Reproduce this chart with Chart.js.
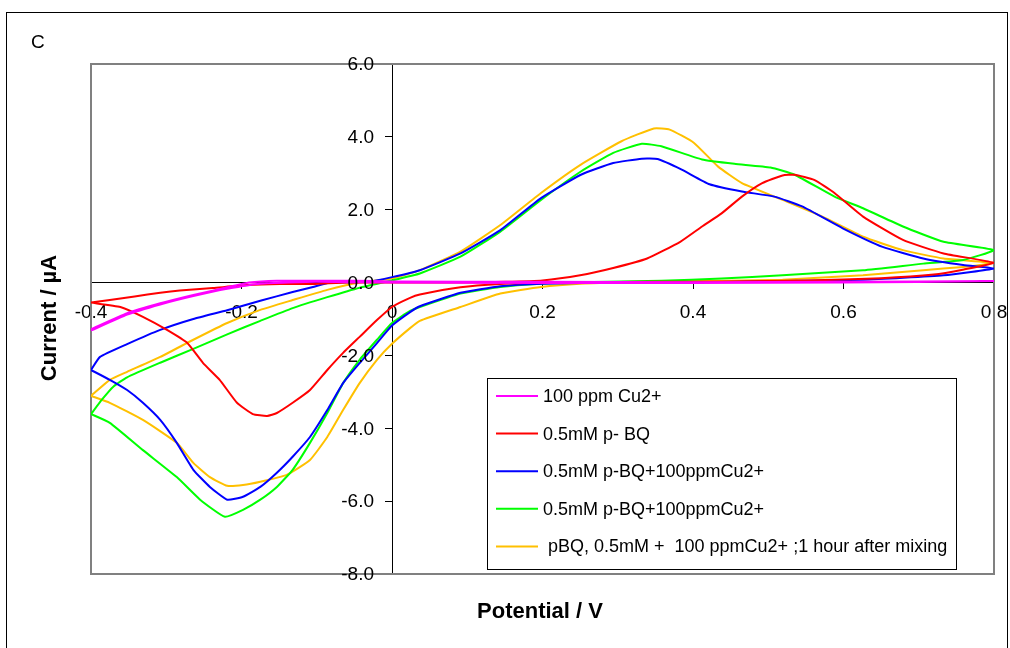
<!DOCTYPE html>
<html lang="en">
<head>
  <meta charset="UTF-8" />
  <title>Cyclic voltammograms C</title>
  <script src="https://cdn.jsdelivr.net/npm/chart.js"></script>
  <style>
    body { margin: 0; background: #fff; }
  </style>
</head>
<body>
  <canvas id="cvChart" width="1010" height="648"></canvas>

  <script>
    // tick values
    const xTicks = [-0.4, -0.2, 0, 0.2, 0.4, 0.6, 0.8];
    const yTicks = [-8, -6, -4, -2, 0, 2, 4, 6];

    const seriesLabels = [
      '100 ppm Cu2+',
      '0.5mM p- BQ',
      '0.5mM p-BQ+100ppmCu2+',
      '0.5mM p-BQ+100ppmCu2+',
      ' pBQ, 0.5mM +  100 ppmCu2+ ;1 hour after mixing'
    ];
    const seriesColors = ['#ff00ff', '#ff0000', '#0000ff', '#00ff00', '#ffc000'];

    // potential (V) / current (uA), closed loops starting at -0.4 V
    const cuPotential = [-0.4, -0.352, -0.308, -0.264, -0.219, -0.19, -0.153, -0.1, -0.05, 0, 0.2, 0.4, 0.6, 0.8,
      0.6, 0.4, 0.2, 0, -0.1, -0.175, -0.219, -0.264, -0.308, -0.352, -0.4];
    const cuCurrent = [-1.28, -0.84, -0.57, -0.34, -0.13, 0.0, 0.05, 0.05, 0.05, 0.03, 0.02, 0.01, 0.02, 0.04,
      0.0, -0.01, -0.01, 0.0, 0.02, -0.03, -0.17, -0.37, -0.6, -0.88, -1.32];

    const bqPotential = [-0.4, -0.375, -0.342, -0.308, -0.282, -0.238, -0.193, -0.149, -0.105, -0.06, 0, 0.1, 0.15, 0.2,
      0.25, 0.294, 0.339, 0.383, 0.412, 0.438, 0.465, 0.492, 0.519, 0.535, 0.561, 0.588, 0.626, 0.679, 0.733, 0.8,
      0.76, 0.72, 0.65, 0.55, 0.45, 0.35, 0.25, 0.2, 0.144, 0.091, 0.037, 0.024, 0, -0.02, -0.043, -0.065, -0.086,
      -0.109, -0.132, -0.153, -0.166, -0.185, -0.206, -0.229, -0.251, -0.272, -0.299, -0.331, -0.361, -0.4];
    const bqCurrent = [-0.55, -0.48, -0.38, -0.28, -0.22, -0.15, -0.07, -0.04, -0.04, 0.0, 0.0, 0.0, 0.02, 0.06,
      0.2, 0.4, 0.66, 1.12, 1.54, 1.9, 2.36, 2.73, 2.94, 2.96, 2.82, 2.46, 1.81, 1.17, 0.8, 0.54,
      0.36, 0.22, 0.12, 0.06, 0.03, 0.02, 0.01, 0.0, -0.04, -0.13, -0.33, -0.42, -0.67, -1.03, -1.49, -1.93, -2.4,
      -2.95, -3.3, -3.58, -3.66, -3.61, -3.3, -2.67, -2.21, -1.66, -1.3, -0.94, -0.67, -0.55];

    const mixAPotential = [-0.4, -0.388, -0.352, -0.308, -0.264, -0.219, -0.175, -0.132, -0.105, -0.082, -0.033, 0,
      0.037, 0.091, 0.144, 0.198, 0.251, 0.294, 0.332, 0.353, 0.385, 0.422, 0.465, 0.508, 0.545, 0.599, 0.652, 0.706, 0.759, 0.8,
      0.733, 0.626, 0.519, 0.41, 0.305, 0.2, 0.144, 0.091, 0.037, 0.024, 0, -0.02, -0.043, -0.065, -0.086, -0.109,
      -0.132, -0.153, -0.175, -0.198, -0.219, -0.242, -0.264, -0.286, -0.308, -0.331, -0.352, -0.375, -0.4];
    const mixACurrent = [-2.4, -2.04, -1.69, -1.3, -1.0, -0.76, -0.5, -0.26, -0.12, 0.0, 0.02, 0.15,
      0.34, 0.8, 1.44, 2.32, 2.96, 3.28, 3.4, 3.39, 3.1, 2.7, 2.5, 2.36, 2.09, 1.49, 0.98, 0.66, 0.48, 0.39,
      0.2, 0.08, 0.04, 0.01, 0.0, -0.03, -0.1, -0.28, -0.65, -0.81, -1.18, -1.66, -2.21, -2.76, -3.5, -4.24,
      -4.78, -5.22, -5.61, -5.88, -5.96, -5.61, -5.14, -4.4, -3.77, -3.3, -2.95, -2.67, -2.4];

    const mixBPotential = [-0.4, -0.385, -0.37, -0.352, -0.308, -0.264, -0.219, -0.175, -0.132, -0.086, -0.043, 0,
      0.037, 0.091, 0.144, 0.198, 0.251, 0.294, 0.332, 0.358, 0.412, 0.455, 0.503, 0.535, 0.588, 0.626, 0.679, 0.733, 0.8,
      0.759, 0.706, 0.626, 0.519, 0.438, 0.358, 0.25, 0.198, 0.144, 0.091, 0.037, 0.024, 0, -0.02, -0.043, -0.065,
      -0.086, -0.109, -0.132, -0.153, -0.175, -0.198, -0.222, -0.255, -0.286, -0.331, -0.375, -0.4];
    const mixBCurrent = [-3.61, -3.2, -2.85, -2.6, -2.2, -1.82, -1.42, -1.05, -0.7, -0.4, -0.14, 0.06,
      0.25, 0.71, 1.4, 2.27, 3.05, 3.56, 3.81, 3.74, 3.38, 3.26, 3.16, 2.96, 2.36, 2.04, 1.54, 1.12, 0.89,
      0.62, 0.52, 0.34, 0.2, 0.11, 0.05, 0.01, -0.03, -0.12, -0.3, -0.67, -0.78, -1.11, -1.57, -2.12, -2.76,
      -3.58, -4.4, -5.14, -5.61, -5.96, -6.24, -6.43, -5.96, -5.34, -4.6, -3.85, -3.61];

    const agedPotential = [-0.4, -0.375, -0.352, -0.308, -0.264, -0.219, -0.175, -0.132, -0.086, -0.043, 0,
      0.037, 0.091, 0.144, 0.198, 0.251, 0.305, 0.348, 0.369, 0.401, 0.433, 0.465, 0.519, 0.572, 0.626, 0.679, 0.733, 0.8,
      0.759, 0.706, 0.626, 0.519, 0.412, 0.305, 0.25, 0.198, 0.144, 0.091, 0.037, 0.024, 0, -0.02, -0.043, -0.065,
      -0.086, -0.109, -0.14, -0.175, -0.198, -0.219, -0.242, -0.264, -0.286, -0.331, -0.375, -0.4];
    const agedCurrent = [-3.11, -2.67, -2.45, -2.04, -1.57, -1.11, -0.75, -0.48, -0.2, 0.0, 0.11,
      0.34, 0.85, 1.58, 2.46, 3.24, 3.88, 4.23, 4.2, 3.84, 3.19, 2.73, 2.27, 1.81, 1.26, 0.89, 0.66, 0.54,
      0.43, 0.34, 0.2, 0.08, 0.04, 0.0, -0.03, -0.12, -0.3, -0.67, -1.05, -1.25, -1.68, -2.12, -2.76, -3.5,
      -4.24, -4.87, -5.28, -5.47, -5.56, -5.58, -5.34, -4.95, -4.4, -3.77, -3.3, -3.11];

    const potentials = [cuPotential, bqPotential, mixAPotential, mixBPotential, agedPotential];
    const currents = [cuCurrent, bqCurrent, mixACurrent, mixBCurrent, agedCurrent];

    const FONT = "'Liberation Sans', Arial, sans-serif";

    const datasets = seriesLabels.map((label, i) => ({
      label,
      data: potentials[i].map((x, j) => ({ x, y: currents[i][j] })),
      borderColor: seriesColors[i],
      backgroundColor: seriesColors[i],
      borderWidth: 2,
      pointRadius: 0,
      showLine: true,
      tension: 0.15,
      fill: false
    }));

    // frame, y labels, titles and legend box
    const decorations = {
      id: 'decorations',
      beforeDatasetsDraw(chart) {
        const { ctx, chartArea: a } = chart;
        ctx.save();
        ctx.strokeStyle = '#000';
        ctx.lineWidth = 1;
        ctx.strokeRect(6.5, 12.5, 1001, 700);
        ctx.strokeStyle = '#808080';
        ctx.lineWidth = 2;
        ctx.strokeRect(a.left, a.top, a.right - a.left, a.bottom - a.top);
        ctx.restore();
      },
      afterDraw(chart) {
        const { ctx } = chart;
        const xs = chart.scales.x, ys = chart.scales.y;
        ctx.save();
        // y tick labels left of the zero axis
        ctx.fillStyle = '#000';
        ctx.font = '19px ' + FONT;
        ctx.textAlign = 'right';
        ctx.textBaseline = 'middle';
        const x0 = xs.getPixelForValue(0);
        ys.ticks.forEach(t => {
          ctx.fillText(t.value.toFixed(1), x0 - 18, ys.getPixelForValue(t.value) + 1);
        });

        // panel letter
        ctx.textAlign = 'left';
        ctx.textBaseline = 'alphabetic';
        ctx.fillText('C', 31, 48);

        // axis titles
        ctx.font = 'bold 22px ' + FONT;
        ctx.textAlign = 'center';
        ctx.textBaseline = 'middle';
        ctx.fillText('Potential / V', 540, 612);
        ctx.save();
        ctx.translate(50, 318);
        ctx.rotate(-Math.PI / 2);
        ctx.fillText('Current / \u00b5A', 0, 0);
        ctx.restore();

        // legend
        const lx = 487, ly = 378, lw = 469, lh = 191;
        ctx.fillStyle = '#fff';
        ctx.fillRect(lx, ly, lw, lh);
        ctx.strokeStyle = '#000';
        ctx.lineWidth = 1;
        ctx.strokeRect(lx + 0.5, ly + 0.5, lw, lh);
        ctx.font = '18px ' + FONT;
        ctx.textAlign = 'left';
        chart.data.datasets.forEach((ds, i) => {
          const y = 396 + i * 37.6;
          ctx.strokeStyle = ds.borderColor;
          ctx.lineWidth = 2;
          ctx.beginPath();
          ctx.moveTo(496, y);
          ctx.lineTo(538, y);
          ctx.stroke();
          ctx.fillStyle = '#000';
          ctx.fillText(ds.label, 543, y + 1);
        });
        ctx.restore();
      }
    };

    new Chart(document.getElementById('cvChart'), {
      type: 'scatter',
      data: { datasets },
      options: {
        responsive: false,
        animation: false,
        devicePixelRatio: 1,
        layout: { padding: { left: 91, right: 16, top: 64, bottom: 74 } },
        plugins: { legend: { display: false }, tooltip: { enabled: false } },
        scales: {
          x: {
            type: 'linear',
            min: -0.4,
            max: 0.8,
            position: { y: 0 },
            afterBuildTicks: s => { s.ticks = xTicks.map(v => ({ value: v })); },
            // labels may hang past the plot edge, as in the original
            afterFit: s => { s.paddingLeft = 0; s.paddingRight = 0; },
            grid: { display: true, drawOnChartArea: false, drawTicks: true, tickLength: 6, color: '#000' },
            border: { display: true, color: '#000', width: 1 },
            ticks: {
              autoSkip: false,
              maxRotation: 0,
              padding: 13,
              color: '#000',
              font: { family: FONT, size: 19 },
              callback: v => (v === 0 ? '0' : v.toFixed(1))
            }
          },
          y: {
            type: 'linear',
            min: -8,
            max: 6,
            position: { x: 0 },
            afterBuildTicks: s => { s.ticks = yTicks.map(v => ({ value: v })); },
            grid: { display: true, drawOnChartArea: false, drawTicks: true, tickLength: 7, color: '#000' },
            border: { display: true, color: '#000', width: 1 },
            ticks: { display: false }
          }
        }
      },
      plugins: [decorations]
    });
  </script>
</body>
</html>
